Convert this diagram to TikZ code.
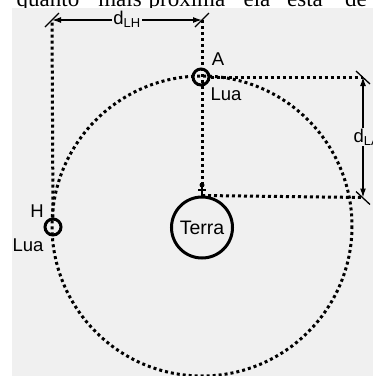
\documentclass[tikz,border=0pt]{standalone}
\usepackage{fontspec}
\setmainfont{Liberation Sans}
\newfontfamily\bodyserif{Liberation Serif}
\usetikzlibrary{arrows.meta, positioning}

\definecolor{panelgray}{RGB}{240,240,240}

\begin{document}
\begin{tikzpicture}[
            x=1pt, y=-1pt,
            orbit/.style={line width=3pt, dash pattern=on 3pt off 3pt},
            moon/.style={circle, draw, line width=3pt, minimum size=16pt, inner sep=0pt},
            planet/.style={circle, draw, line width=3pt, minimum size=61pt, inner sep=0pt,
                font=\fontsize{19.5}{21}\selectfont},
            lbl/.style={font=\fontsize{18.5}{20}\selectfont, inner sep=1pt},
            measure/.style={{Latex[length=9pt,width=6pt]}-{Latex[length=9pt,width=6pt]}, line width=1.3pt},
            tick/.style={line width=1.3pt}
        ]
        \useasboundingbox (0,0) rectangle (373,376);
        \clip (0,0) rectangle (373,376);

        % caption line above the panel, cut off at the top
        \foreach \w/\x [count=\i] in {quanto/48, mais/120, próxima/187, ela/257, está/305, de/356}
            \node[anchor=base, inner sep=0pt, font=\bodyserif\fontsize{23}{25}\selectfont] (word-\i) at (\x, 6) {\w};
        \fill[panelgray] (12,8) rectangle (373,376);

        \node[planet] (terra) at (202, 227.5) {Terra};
        \node[moon] (luaA) at (201, 77) {};
        \node[moon] (luaH) at (53, 227) {};
        \node[lbl] (labelA) at (218, 59) {A};
        \node[lbl] (luaAtext) at (226, 94) {Lua};
        \node[lbl] (labelH) at (37, 211) {H};
        \node[lbl] (luaHtext) at (28, 245) {Lua};

        \coordinate (topL) at (52, 20);
        \coordinate (topR) at (202, 20);
        \coordinate (rightT) at (363, 77);
        \coordinate (rightB) at (363, 197.5);
        \coordinate (terraMark) at (202, 185);

        \draw[orbit] (202, 226) circle[radius=150];
        \draw[orbit] (luaH.north) -- (topL);
        \draw[orbit] (topR) -- (terraMark);
        \draw[orbit] (luaA.east) -- (rightT);
        \draw[orbit] (terra.north) -- (rightB);

        % small end mark on top of the earth
        \fill (terraMark) circle[radius=2.5];
        \draw[tick] (terraMark) -- (terra.north);
        \draw[tick] (terraMark) +(-4, 5) -- +(4, 5);

        \draw[measure] (topL) -- (topR)
            node[midway, lbl, fill=panelgray, inner ysep=0pt, yshift=1pt] (dLH) {d\textsubscript{LH}};
        \draw[measure] (rightT) -- (rightB)
            node[midway, lbl, fill=panelgray, anchor=west, xshift=-11pt] (dLA) {d\textsubscript{LA}};

        \draw[tick] (topL) +(-7, 7) -- +(7, -7);
        \draw[tick] (topR) +(-7, 7) -- +(7, -7);
        \draw[tick] (rightT) +(-7, -6) -- +(7, 7);
        \draw[tick] (rightB) +(-7, -6) -- +(7, 7);
    \end{tikzpicture}
\end{document}
